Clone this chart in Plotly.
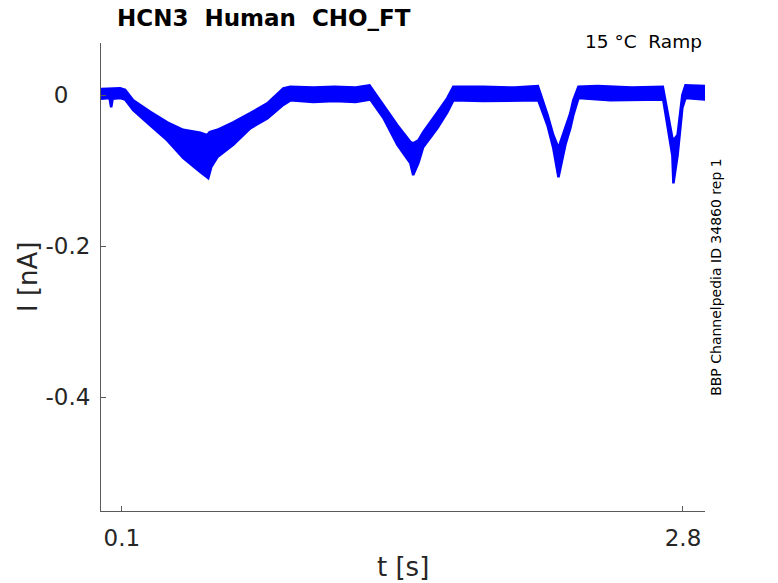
import plotly.graph_objects as go

# Upper envelope of the overlaid sweeps (t in s, I in nA)
t_upper = [0.0, 0.092, 0.116, 0.155, 0.237, 0.319, 0.395, 0.478, 0.511, 0.523, 0.560, 0.636,
           0.718, 0.800, 0.877, 0.911, 1.021, 1.123, 1.225, 1.292, 1.358, 1.426, 1.488, 1.502,
           1.527, 1.550, 1.618, 1.666, 1.695, 1.838, 1.991, 2.102, 2.148, 2.176, 2.201, 2.234,
           2.258, 2.272, 2.297, 2.390, 2.553, 2.703, 2.725, 2.749, 2.754, 2.774, 2.797, 2.812, 2.906]
i_upper = [0.008, 0.009, 0.007, -0.007, -0.022, -0.036, -0.046, -0.050, -0.053, -0.049, -0.046, -0.036,
           -0.024, -0.011, 0.009, 0.011, 0.010, 0.011, 0.010, 0.013, -0.013, -0.040, -0.062, -0.064,
           -0.060, -0.049, -0.023, -0.004, 0.011, 0.011, 0.010, 0.012, -0.026, -0.053, -0.070, -0.042,
           -0.024, -0.007, 0.011, 0.012, 0.010, 0.011, -0.023, -0.057, -0.060, -0.053, 0.000, 0.013, 0.012]

# Lower envelope
t_lower = [0.0, 0.041, 0.049, 0.056, 0.093, 0.116, 0.155, 0.237, 0.319, 0.395, 0.478, 0.516,
           0.531, 0.560, 0.636, 0.718, 0.800, 0.877, 0.911, 1.021, 1.123, 1.225, 1.296, 1.358,
           1.426, 1.488, 1.502, 1.527, 1.550, 1.618, 1.666, 1.695, 1.838, 2.104, 2.148, 2.176,
           2.201, 2.234, 2.258, 2.272, 2.297, 2.451, 2.705, 2.725, 2.749, 2.754, 2.774, 2.797,
           2.812, 2.906]
i_lower = [-0.005, -0.004, -0.016, -0.005, -0.004, -0.006, -0.020, -0.040, -0.060, -0.083, -0.102, -0.110,
           -0.095, -0.082, -0.066, -0.044, -0.031, -0.013, -0.007, -0.009, -0.008, -0.009, -0.006, -0.030,
           -0.066, -0.090, -0.106, -0.090, -0.069, -0.044, -0.023, -0.007, -0.008, -0.007, -0.040, -0.070,
           -0.109, -0.066, -0.044, -0.027, -0.004, -0.007, -0.006, -0.036, -0.080, -0.117, -0.080, -0.017,
           -0.004, -0.006]

x_ticks = [0.1, 2.8]
x_ticktext = ["0.1", "2.8"]
y_ticks = [0, -0.2, -0.4]
y_ticktext = ["0\u2007\u00a0", "-0.2", "-0.4"]

title_text = "HCN3\u00a0\u00a0Human\u00a0\u00a0CHO_FT"
cond_text = "15 °C\u00a0\u00a0Ramp"
side_text = "BBP Channelpedia ID 34860 rep 1"

FONT = "DejaVu Sans"
TXT = "#262626"
AX = "#5a5a5a"

fig = go.Figure()
fig.add_trace(go.Scatter(
    x=t_upper + t_lower[::-1],
    y=i_upper + i_lower[::-1],
    mode="lines", fill="toself",
    fillcolor="#0000FF", line=dict(color="#0000FF", width=2.5),
    hoverinfo="skip", showlegend=False,
))

fig.update_layout(
    width=778, height=583,
    margin=dict(l=101, r=73, t=43, b=72),
    paper_bgcolor="white", plot_bgcolor="white",
    font=dict(family=FONT, color=TXT),
    showlegend=False,
    xaxis=dict(range=[0.0, 2.906], tickvals=x_ticks, ticktext=x_ticktext,
               ticks="inside", ticklen=5, tickcolor=AX, showline=True, linecolor=AX,
               linewidth=1, showgrid=False, zeroline=False, mirror=False,
               ticklabelstandoff=6,
               tickfont=dict(size=23, color=TXT, family=FONT)),
    yaxis=dict(range=[-0.551, 0.069], tickvals=y_ticks, ticktext=y_ticktext,
               ticks="inside", ticklen=5, tickcolor=AX, showline=True, linecolor=AX,
               linewidth=1, showgrid=False, zeroline=False, mirror=False,
               ticklabelstandoff=5,
               tickfont=dict(size=23, color=TXT, family=FONT)),
    annotations=[
        dict(text="t [s]", xref="paper", yref="paper", x=0.5, y=-0.1197,
             xanchor="center", yanchor="middle", showarrow=False,
             font=dict(size=26, color=TXT, family=FONT)),
        dict(text="I [nA]", xref="paper", yref="paper", x=-0.1209, y=0.5,
             xanchor="center", yanchor="middle", showarrow=False, textangle=-90,
             font=dict(size=26, color=TXT, family=FONT)),
        dict(text="<b>" + title_text + "</b>", xref="paper", yref="paper", x=0.0232, y=1.0534,
             xanchor="left", yanchor="middle", showarrow=False,
             font=dict(size=23, color="black", family=FONT)),
        dict(text=cond_text, xref="paper", yref="paper", x=0.998, y=1.004,
             xanchor="right", yanchor="middle", showarrow=False,
             font=dict(size=18.5, color="black", family=FONT)),
        dict(text=side_text, xref="paper", yref="paper", x=1.018, y=0.5,
             xanchor="center", yanchor="middle", showarrow=False, textangle=-90,
             font=dict(size=14, color="black", family=FONT)),
    ],
)

fig.write_html("out.html", config={"displayModeBar": False},
               post_script="document.body.style.margin='0';document.body.style.overflow='hidden';")
